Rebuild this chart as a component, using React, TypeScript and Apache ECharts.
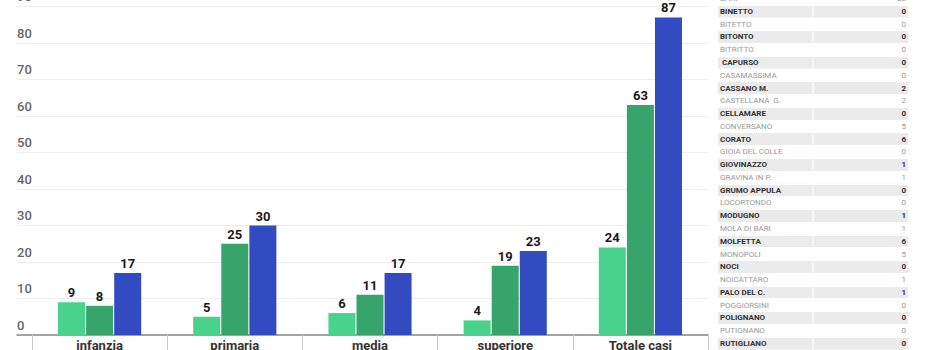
import React, { useEffect, useRef } from "react";
import * as echarts from "echarts";

const categories = ["infanzia", "primaria", "media", "superiore", "Totale casi"];
const seriesA = [9, 5, 6, 4, 24];
const seriesB = [8, 25, 11, 19, 63];
const seriesC = [17, 30, 17, 23, 87];
const seriesColors = ["#48D28B", "#36A46B", "#324BC0"];

const towns = [
  "BARI", "BINETTO", "BITETTO", "BITONTO", "BITRITTO", " CAPURSO", "CASAMASSIMA",
  "CASSANO M.", "CASTELLANA  G.", "CELLAMARE", "CONVERSANO", "CORATO", "GIOIA DEL COLLE",
  "GIOVINAZZO", "GRAVINA IN P.", "GRUMO APPULA", "LOCORTONDO", "MODUGNO", "MOLA DI BARI",
  "MOLFETTA", "MONOPOLI", "NOCI", "NOICATTARO", "PALO DEL C.", "POGGIORSINI", "POLIGNANO",
  "PUTIGNANO", "RUTIGLIANO",
];
const townValues = [
  "32", "0", "0", "0", "0", "0", "0", "2", "2", "0", "5", "6", "0", "1", "1", "0", "0",
  "1", "1", "6", "5", "0", "1", "1", "0", "0", "0", "0",
];

const FONT = "Roboto, 'Noto Sans', sans-serif";

export default function App() {
  const ref = useRef<HTMLDivElement>(null);
  useEffect(() => {
    if (!ref.current) return;
    const chart = echarts.init(ref.current, null, { renderer: "svg" });
    const rowH = 12.77;
    const tableTop = 5 - rowH;
    const rich = {
      b: { fontSize: 8, fontWeight: "bold", color: "#333", fontFamily: FONT },
      n: { fontSize: 8, fontWeight: "normal", color: "#999", fontFamily: FONT },
    };
    const fmt = (v: string, i: number) => (i % 2 === 1 ? `{b|${v}}` : `{n|${v}}`);
    const barLabel = {
      show: true,
      position: "top",
      distance: 3,
      color: "#1a1a1a",
      fontWeight: "bold",
      fontSize: 13,
      fontFamily: FONT,
    };
    const mkSeries = (name: string, data: number[], color: string) => ({
      type: "bar",
      name,
      data,
      xAxisIndex: 1,
      yAxisIndex: 1,
      barWidth: 27,
      barGap: "4%",
      itemStyle: { color },
      label: barLabel,
    });
    chart.setOption({
      animation: false,
      textStyle: { fontFamily: FONT },
      grid: [
        { left: 17, right: 222, top: 6.5, bottom: 15, outerBoundsMode: "none", containLabel: false },
        { left: 32, right: 222, top: 6.5, bottom: 15, outerBoundsMode: "none", containLabel: false },
        {
          left: 718,
          width: 190,
          top: tableTop,
          height: rowH * towns.length,
          outerBoundsMode: "none",
          containLabel: false,
        },
      ],
      xAxis: [
        {
          gridIndex: 0,
          type: "value",
          min: 0,
          max: 1,
          axisLine: { show: true, onZero: false, lineStyle: { color: "#888", width: 1.5 } },
          axisTick: { show: false },
          axisLabel: { show: false },
          splitLine: { show: false },
        },
        {
          gridIndex: 1,
          type: "category",
          data: categories,
          axisLine: { show: false },
          axisTick: { show: true, length: 15, lineStyle: { color: "#cccccc", width: 1 } },
          axisLabel: {
            margin: 4,
            color: "#333",
            fontWeight: "bold",
            fontSize: 13,
            fontFamily: FONT,
          },
        },
        { gridIndex: 2, type: "value", min: 0, max: 1, show: false },
      ],
      yAxis: [
        {
          gridIndex: 0,
          type: "value",
          min: 0,
          max: 90,
          interval: 10,
          axisLine: { show: false },
          axisTick: { show: false },
          axisLabel: {
            inside: true,
            margin: 0,
            verticalAlign: "bottom",
            lineHeight: 14,
            padding: [0, 0, 3, 0],
            color: "#666",
            fontWeight: 500,
            fontSize: 13,
            fontFamily: FONT,
          },
          splitLine: { show: true, lineStyle: { color: "#eeeeee", width: 1 } },
        },
        { gridIndex: 1, type: "value", min: 0, max: 90, interval: 10, show: false },
        {
          gridIndex: 2,
          type: "category",
          inverse: true,
          data: towns,
          position: "left",
          axisLine: { show: false },
          axisTick: { show: false },
          axisLabel: { inside: true, margin: 2, interval: 0, formatter: fmt, rich },
          splitLine: { show: true, interval: 0, lineStyle: { color: "#ffffff", width: 1 } },
          splitArea: {
            show: true,
            interval: 0,
            areaStyle: { color: ["#ffffff", "#ebebeb"] },
          },
        },
        {
          gridIndex: 2,
          type: "category",
          inverse: true,
          data: townValues,
          position: "right",
          axisLine: { show: false },
          axisTick: { show: false },
          axisLabel: { inside: true, margin: 2, interval: 0, formatter: fmt, rich },
          splitLine: { show: false },
        },
      ],
      graphic: [
        {
          type: "rect",
          shape: { x: 812.5, y: 0, width: 1, height: 350 },
          style: { fill: "#ffffff" },
          z: 10,
        },
      ],
      series: [
        mkSeries("a", seriesA, seriesColors[0]),
        mkSeries("b", seriesB, seriesColors[1]),
        mkSeries("c", seriesC, seriesColors[2]),
      ],
    });
    return () => chart.dispose();
  }, []);
  return (
    <div
      ref={ref}
      style={{ position: "fixed", left: 0, top: 0, width: 930, height: 350, background: "#fff" }}
    />
  );
}
